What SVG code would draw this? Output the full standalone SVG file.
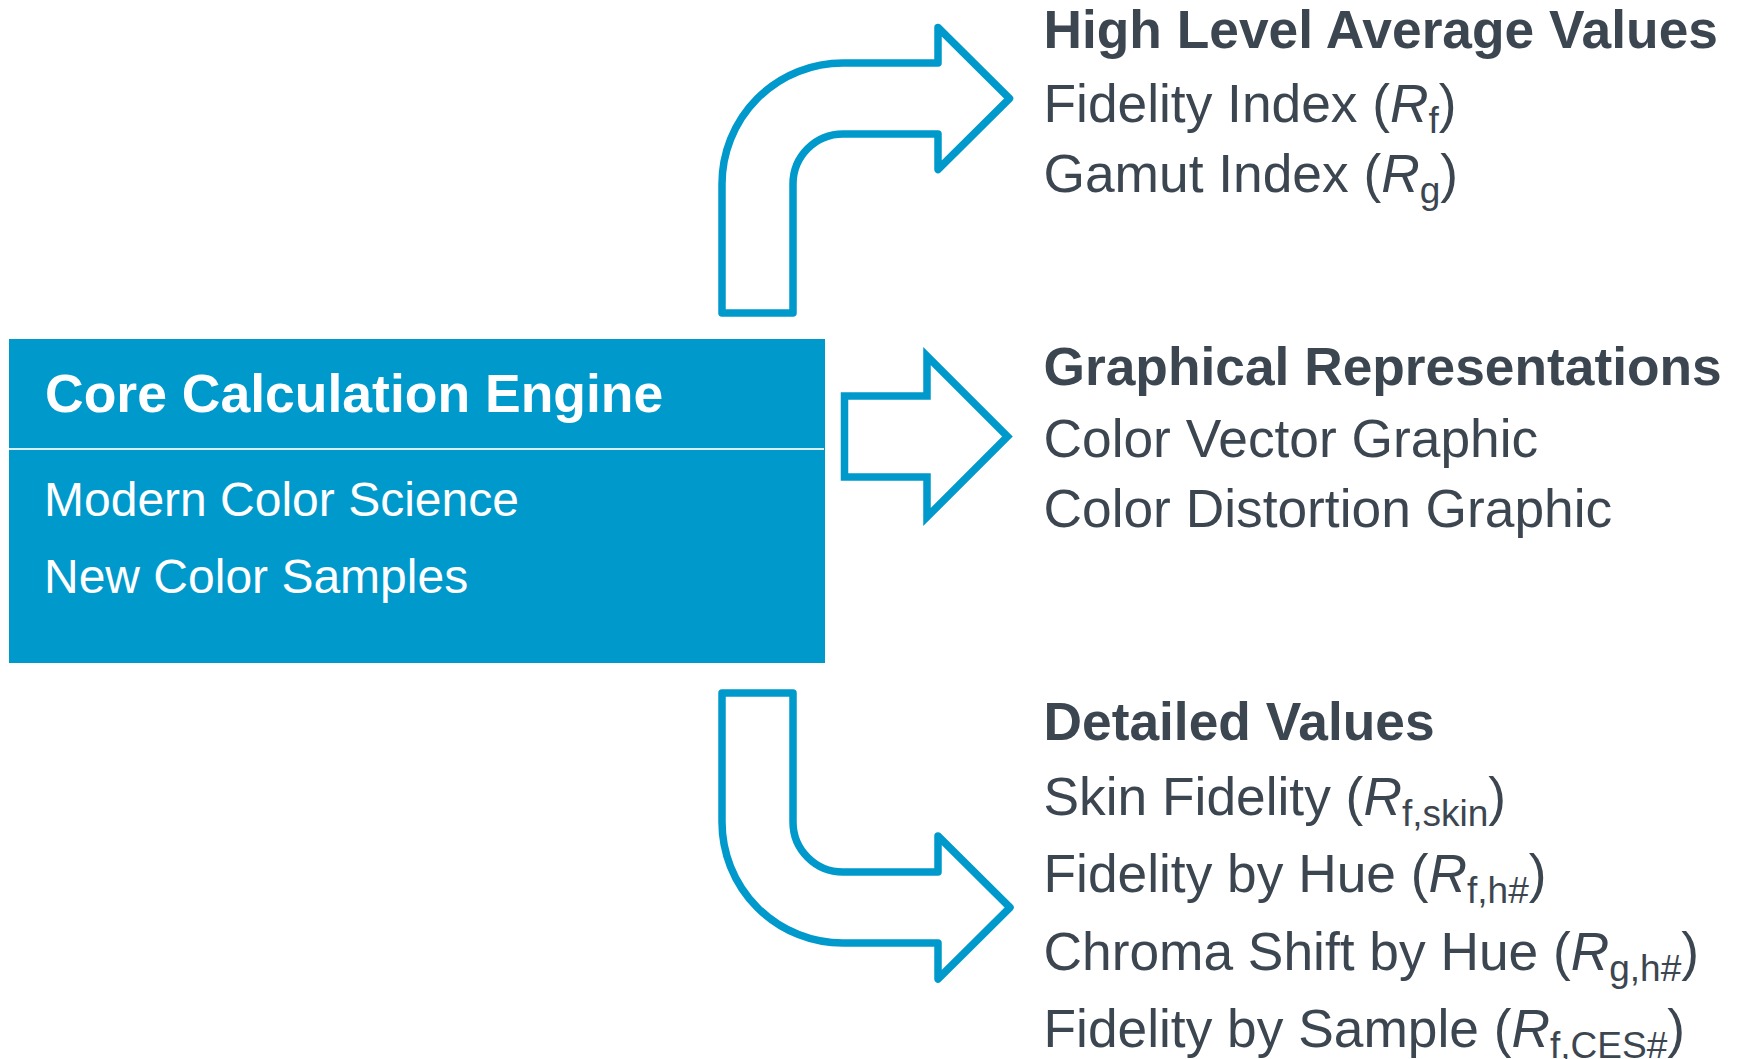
<svg xmlns="http://www.w3.org/2000/svg" width="1739" height="1059" viewBox="0 0 1739 1059">
  <style>
    .arrow { fill: #ffffff; stroke: #0099CC; stroke-width: 7.5; }
    .round { stroke-linejoin: round; }
    .miter { stroke-linejoin: miter; stroke-miterlimit: 10; }
    .t { font-family: "Liberation Sans", Arial, Helvetica, sans-serif; font-size: 53.3px; fill: #3C4650; }
    .h { font-weight: bold; }
    .w { fill: #ffffff; font-family: "Liberation Sans", Arial, Helvetica, sans-serif; }
    .i { font-style: italic; }
    .sub { font-size: 37px; }
  </style>
  <rect width="1739" height="1059" fill="#ffffff"/>

  <g id="connectors">
    <path class="arrow round" d="M 722 313 L 722 184 A 121 121 0 0 1 843 63 L 938 63 L 938 27.5 L 1009.5 98.5 L 938 169.5 L 938 134 L 843 134 A 50 50 0 0 0 793 184 L 793 313 Z"/>
    <path class="arrow miter" d="M 844.5 396 L 927 396 L 927 356 L 1007.5 436.5 L 927 517 L 927 477 L 844.5 477 Z"/>
    <path class="arrow round" d="M 722 693 L 793 693 L 793 822 A 50 50 0 0 0 843 872 L 938 872 L 938 836 L 1010 907.5 L 938 979 L 938 943 L 843 943 A 121 121 0 0 1 722 822 Z"/>
  </g>

  <g id="core-engine">
    <rect x="9" y="339" width="816" height="324" fill="#0099CC"/>
    <line x1="9" y1="449" x2="824" y2="449" stroke="#D9EFF8" stroke-width="2"/>
    <text class="w" x="45" y="412" font-size="53.5" font-weight="bold">Core Calculation Engine</text>
    <text class="w" x="44" y="516" font-size="48">Modern Color Science</text>
    <text class="w" x="44" y="593" font-size="48">New Color Samples</text>
  </g>

  <g id="high-level">
    <text class="t h" x="1043.5" y="48">High Level Average Values</text>
    <text class="t" x="1043.5" y="122">Fidelity Index (<tspan class="i">R</tspan><tspan class="sub" dy="11">f</tspan><tspan dy="-11">)</tspan></text>
    <text class="t" x="1043.5" y="192">Gamut Index (<tspan class="i">R</tspan><tspan class="sub" dy="11">g</tspan><tspan dy="-11">)</tspan></text>
  </g>

  <g id="graphical">
    <text class="t h" x="1043.5" y="385">Graphical Representations</text>
    <text class="t" x="1043.5" y="457">Color Vector Graphic</text>
    <text class="t" x="1043.5" y="527">Color Distortion Graphic</text>
  </g>

  <g id="detailed">
    <text class="t h" x="1043.5" y="740">Detailed Values</text>
    <text class="t" x="1043.5" y="815">Skin Fidelity (<tspan class="i">R</tspan><tspan class="sub" dy="11">f,skin</tspan><tspan dy="-11">)</tspan></text>
    <text class="t" x="1043.5" y="892">Fidelity by Hue (<tspan class="i">R</tspan><tspan class="sub" dy="11">f,h#</tspan><tspan dy="-11">)</tspan></text>
    <text class="t" x="1043.5" y="970">Chroma Shift by Hue (<tspan class="i">R</tspan><tspan class="sub" dy="11">g,h#</tspan><tspan dy="-11">)</tspan></text>
    <text class="t" x="1043.5" y="1047">Fidelity by Sample (<tspan class="i">R</tspan><tspan class="sub" dy="11">f,CES#</tspan><tspan dy="-11">)</tspan></text>
  </g>
</svg>
